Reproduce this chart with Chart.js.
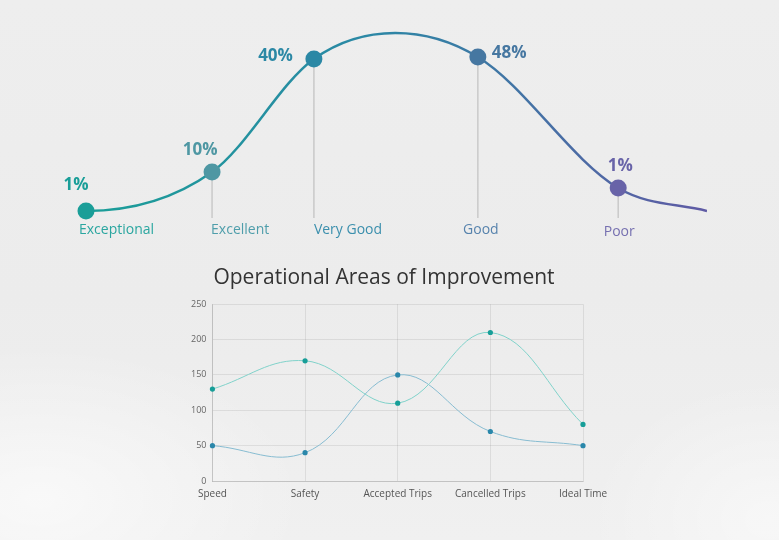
<!DOCTYPE html>
<html>
<head>
<meta charset="utf-8">
<script src="https://cdn.jsdelivr.net/npm/chart.js@4/dist/chart.umd.min.js"></script>
<style>
  html, body { margin: 0; padding: 0; }
  body {
    width: 779px; height: 540px; overflow: hidden; position: relative;
    background:
      radial-gradient(ellipse 380px 220px at 40px 500px, rgba(255,255,255,0.6), rgba(255,255,255,0) 70%),
      radial-gradient(ellipse 260px 200px at 770px 520px, rgba(255,255,255,0.5), rgba(255,255,255,0) 70%),
      linear-gradient(180deg, #eeeeee 0%, #ececec 55%, #f0f0f0 100%);
    font-family: 'Open Sans', sans-serif;
  }
  #curveWrap { position: absolute; left: 0; top: 0; width: 779px; height: 250px; }
  #lineWrap { position: absolute; left: 0; top: 255px; width: 779px; height: 285px; }
</style>
</head>
<body>
<div id="curveWrap"><canvas id="ratingCurve"></canvas></div>
<div id="lineWrap"><canvas id="improvement"></canvas></div>
<script>
const FONT = "'Open Sans', sans-serif";

// rating distribution (top curve)
const ratings = ['Exceptional', 'Excellent', 'Very Good', 'Good', 'Poor'];
const ratingShares = ['1%', '10%', '40%', '48%', '1%'];
const ratingPos = [0, 20.3, 36.7, 63.1, 85.7];
const ratingHeight = [0, 21.9, 85.4, 86.5, 12.9];
// extra points that shape the curve: hidden lead-in, peak and right tail
const shapePos = [-20, 49.8, 100];
const shapeHeight = [0, 100, 0];

// operational areas (bottom chart)
const areas = ['Speed', 'Safety', 'Accepted Trips', 'Cancelled Trips', 'Ideal Time'];
const seriesA = [130, 170, 110, 210, 80];
const seriesB = [50, 40, 150, 70, 50];

const RATING_COLORS = ['#1a9e98', '#4e97a3', '#2b88a5', '#4677a1', '#6863a8'];
const NAME_COLORS = ['#2aa6a0', '#4f9eab', '#3b8fad', '#5783ad', '#7670b0'];

const curvePoints = ratingPos.map((x, i) => ({ x, y: ratingHeight[i] }))
  .concat(shapePos.map((x, i) => ({ x, y: shapeHeight[i] })))
  .sort((a, b) => a.x - b.x);

// share label offsets from the marker: dx, dy, align
const SHARE_POS = [[-10, -26, 'center'], [-12, -22, 'center'], [-21, -3, 'right'], [14, -4, 'left'], [2, -22, 'center']];
// name label offsets: dx, align, dy below chart bottom
const NAME_POS = [[-7, 'left', 19], [-1, 'left', 19], [0, 'left', 19], [3, 'center', 19], [1, 'center', 21]];

const ratingLabels = {
  id: 'ratingLabels',
  beforeDatasetsDraw(chart) {
    const { ctx, chartArea, scales } = chart;
    ctx.save();
    ctx.strokeStyle = '#c9c9c9';
    ctx.lineWidth = 1.5;
    ratingPos.forEach((p, i) => {
      if (i === 0) return;
      const x = scales.x.getPixelForValue(p);
      const y = scales.y.getPixelForValue(ratingHeight[i]);
      ctx.beginPath();
      ctx.moveTo(x, y);
      ctx.lineTo(x, chartArea.bottom + 7);
      ctx.stroke();
    });
    ctx.restore();
  },
  afterDatasetsDraw(chart) {
    const { ctx, chartArea, scales } = chart;
    ctx.save();
    ctx.textBaseline = 'middle';
    ratings.forEach((name, i) => {
      const x = scales.x.getPixelForValue(ratingPos[i]);
      const y = scales.y.getPixelForValue(ratingHeight[i]);
      const [dx, dy, align] = SHARE_POS[i];
      ctx.font = `bold 17px ${FONT}`;
      ctx.fillStyle = RATING_COLORS[i];
      ctx.textAlign = align;
      ctx.fillText(ratingShares[i], x + dx, y + dy);
      const [nx, nalign, ny] = NAME_POS[i];
      ctx.font = `14px ${FONT}`;
      ctx.fillStyle = NAME_COLORS[i];
      ctx.textAlign = nalign;
      ctx.fillText(name, x + nx, chartArea.bottom + ny);
    });
    ctx.restore();
  },
};

new Chart(document.getElementById('ratingCurve'), {
  type: 'line',
  data: {
    datasets: [{
      data: curvePoints,
      borderWidth: 2.5,
      borderColor: (c) => {
        const area = c.chart.chartArea;
        if (!area) return '#2b88a5';
        const g = c.chart.ctx.createLinearGradient(area.left, 0, area.right, 0);
        g.addColorStop(0, '#1a9e98');
        g.addColorStop(0.45, '#2b88a5');
        g.addColorStop(1, '#5f5aa4');
        return g;
      },
      cubicInterpolationMode: 'monotone',
      pointRadius: 0,
      clip: { left: 0, top: false, right: 0, bottom: false },
      order: 2,
    }, {
      data: ratingPos.map((x, i) => ({ x, y: ratingHeight[i] })),
      showLine: false,
      pointRadius: 8.5,
      pointBackgroundColor: RATING_COLORS,
      pointBorderWidth: 0,
      clip: false,
      order: 1,
    }],
  },
  options: {
    responsive: true,
    maintainAspectRatio: false,
    animation: false,
    layout: { padding: { left: 86, right: 72, top: 33, bottom: 39 } },
    plugins: { legend: { display: false }, tooltip: { enabled: false } },
    scales: {
      x: { type: 'linear', display: false, min: 0, max: 100 },
      y: { display: false, min: 0, max: 100 },
    },
  },
  plugins: [ratingLabels],
});

const GRID = 'rgba(0,0,0,0.08)';

new Chart(document.getElementById('improvement'), {
  type: 'line',
  data: {
    labels: areas,
    datasets: [{
      data: seriesA,
      borderColor: '#80d2ca',
      borderWidth: 1,
      pointBackgroundColor: '#179e98',
      pointBorderWidth: 0,
      pointRadius: 2.6,
      tension: 0.4,
    }, {
      data: seriesB,
      borderColor: '#87bcd1',
      borderWidth: 1,
      pointBackgroundColor: '#2a87aa',
      pointBorderWidth: 0,
      pointRadius: 2.6,
      tension: 0.4,
    }],
  },
  options: {
    responsive: true,
    maintainAspectRatio: false,
    animation: false,
    layout: { padding: { left: 185, right: 196, top: 0, bottom: 33 } },
    plugins: {
      legend: { display: false },
      tooltip: { enabled: false },
      title: {
        display: true,
        text: 'Operational Areas of Improvement',
        color: '#333',
        font: { family: FONT, size: 21, weight: 'normal' },
        padding: { top: 10, bottom: 14 },
      },
    },
    scales: {
      x: {
        grid: { color: GRID, drawTicks: false },
        border: { color: 'rgba(0,0,0,0.12)' },
        ticks: { color: '#555', padding: 7, font: { family: FONT, size: 10 }, maxRotation: 0 },
      },
      y: {
        min: 0, max: 250,
        grid: { color: GRID, drawTicks: false },
        border: { color: 'rgba(0,0,0,0.12)' },
        ticks: { stepSize: 50, color: '#666', padding: 6, font: { family: FONT, size: 9 } },
      },
    },
  },
});
</script>
</body>
</html>
